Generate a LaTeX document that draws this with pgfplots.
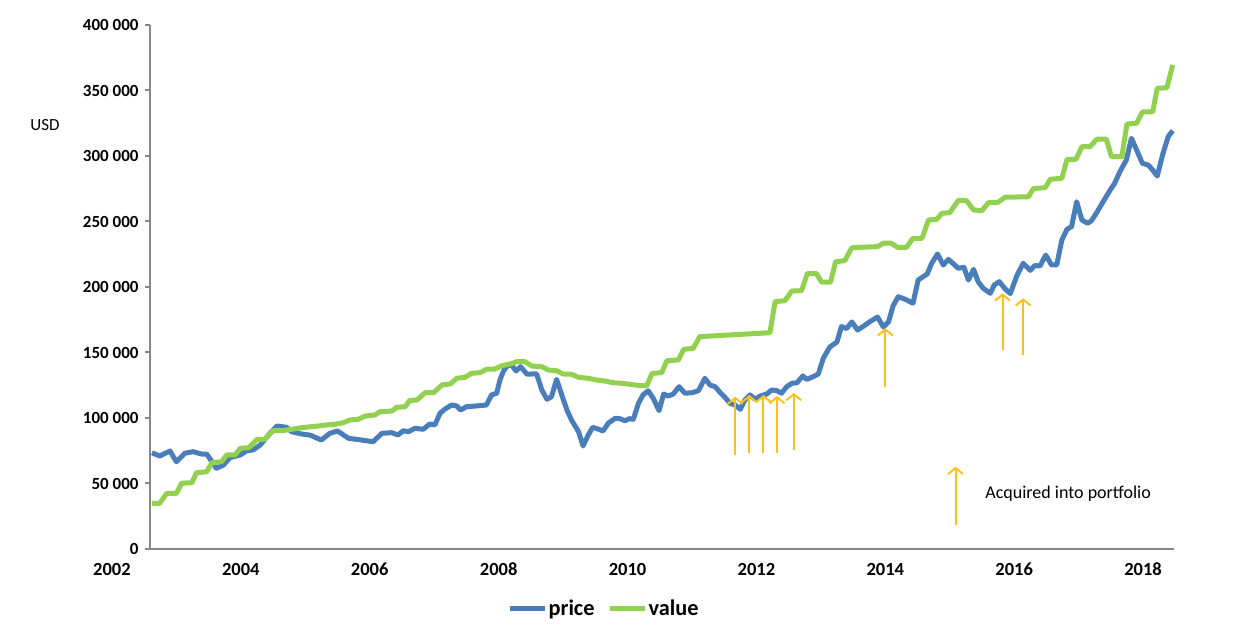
\documentclass[border=0pt]{standalone}
\usepackage{fontspec}
\setmainfont{Carlito}
\usepackage{pgfplots}
\usepackage{pgfplotstable}
\pgfplotsset{compat=1.18}
\usetikzlibrary{arrows.meta}
\definecolor{priceblue}{HTML}{4A7EBB}
\definecolor{valuegreen}{HTML}{92D050}
\definecolor{axisgray}{HTML}{868686}
\definecolor{arrowgold}{HTML}{FAC01C}

\pgfplotstableread{
x y
2002.62 73500
2002.74 71000
2002.90 74800
2003.00 66600
2003.13 73100
2003.26 74300
2003.39 72500
2003.47 72500
2003.62 61600
2003.73 64100
2003.83 69700
2003.99 71800
2004.09 75000
2004.19 75600
2004.30 79400
2004.43 87000
2004.56 93900
2004.71 92900
2004.79 89500
2004.94 87800
2005.07 87000
2005.25 83200
2005.38 88300
2005.50 90100
2005.67 84500
2005.87 83200
2006.05 81900
2006.19 88300
2006.34 88800
2006.44 87000
2006.52 90300
2006.60 89500
2006.70 92100
2006.83 91400
2006.93 95400
2007.01 94700
2007.09 103600
2007.17 106900
2007.27 109900
2007.35 109200
2007.41 106100
2007.50 108600
2007.66 109200
2007.81 109900
2007.89 117600
2007.97 118900
2008.02 129000
2008.07 135300
2008.13 139700
2008.20 140500
2008.27 135900
2008.34 139200
2008.44 133400
2008.51 133600
2008.59 133600
2008.67 121400
2008.75 114300
2008.82 116300
2008.90 129500
2008.98 117600
2009.06 106100
2009.13 98500
2009.24 89500
2009.31 78600
2009.39 87000
2009.46 92900
2009.55 91400
2009.62 90100
2009.70 96000
2009.81 99800
2009.88 99500
2009.96 97900
2010.03 99500
2010.09 99000
2010.17 111200
2010.24 117600
2010.32 120800
2010.40 115000
2010.49 105600
2010.56 118300
2010.63 116800
2010.71 118300
2010.80 123900
2010.89 118900
2011.00 119300
2011.10 120800
2011.20 130300
2011.28 125200
2011.36 123900
2011.44 119300
2011.51 115800
2011.59 111200
2011.67 109900
2011.75 106600
2011.82 113700
2011.90 117600
2011.98 114300
2012.06 116800
2012.16 118300
2012.24 121400
2012.32 120800
2012.39 118900
2012.47 123900
2012.55 126500
2012.63 126900
2012.72 132100
2012.78 129500
2012.88 131500
2012.96 133600
2013.04 145800
2013.14 154200
2013.25 158000
2013.32 169800
2013.40 168300
2013.48 173300
2013.57 167200
2013.66 170000
2013.76 173500
2013.88 177100
2013.97 169500
2014.05 173300
2014.12 185500
2014.20 192600
2014.31 190600
2014.43 187600
2014.51 205300
2014.65 209900
2014.72 218100
2014.81 225200
2014.90 216800
2014.98 221100
2015.06 217600
2015.13 214300
2015.22 215000
2015.29 205300
2015.37 213500
2015.44 204100
2015.52 199000
2015.63 195200
2015.69 201500
2015.77 204100
2015.86 198500
2015.94 195000
2016.04 208400
2016.14 218100
2016.25 212700
2016.32 216400
2016.40 216000
2016.49 224400
2016.58 216800
2016.66 216800
2016.74 235900
2016.82 244100
2016.89 246000
2016.97 265100
2017.05 251200
2017.14 248600
2017.20 250600
2017.28 256700
2017.38 265100
2017.49 274000
2017.56 279200
2017.64 288000
2017.74 296900
2017.82 313500
2017.90 304600
2017.99 294400
2018.08 293100
2018.15 289300
2018.22 284700
2018.31 302100
2018.39 314700
2018.46 319300
}\pricedata

\pgfplotstableread{
x y
2002.62 34900
2002.74 34900
2002.85 42500
2003.00 42500
2003.08 50200
2003.24 50600
2003.31 58200
2003.47 59000
2003.55 65900
2003.70 66600
2003.78 71800
2003.91 71800
2003.99 76900
2004.12 77300
2004.25 83700
2004.37 83700
2004.50 90300
2004.63 90300
2004.79 91400
2004.94 92600
2005.10 93400
2005.20 93900
2005.33 94700
2005.46 95200
2005.59 96400
2005.69 98500
2005.82 99000
2005.93 101500
2006.08 102300
2006.16 104800
2006.34 105300
2006.42 108200
2006.55 108600
2006.62 113400
2006.73 113700
2006.86 119300
2006.99 119300
2007.12 125200
2007.25 126000
2007.35 130300
2007.48 131100
2007.58 134100
2007.71 134600
2007.81 137200
2007.94 137400
2008.05 139900
2008.18 141200
2008.28 143000
2008.41 143000
2008.51 139700
2008.67 139200
2008.77 136600
2008.90 136100
2009.00 133600
2009.13 133400
2009.24 131100
2009.39 130300
2009.52 129000
2009.65 128200
2009.78 126900
2009.91 126500
2010.04 125700
2010.19 124800
2010.30 124800
2010.38 134100
2010.53 134600
2010.61 143700
2010.79 144300
2010.87 152400
2011.02 153200
2011.12 162100
2012.21 165100
2012.29 188800
2012.44 189500
2012.55 196900
2012.70 197200
2012.79 210300
2012.93 210300
2013.01 203800
2013.15 203800
2013.23 219300
2013.37 220100
2013.48 229900
2013.61 230300
2013.88 230800
2013.97 233400
2014.09 233400
2014.19 230300
2014.33 230300
2014.43 237200
2014.57 237200
2014.67 251100
2014.80 251700
2014.88 256300
2015.00 256700
2015.13 265900
2015.26 265900
2015.37 258800
2015.50 258300
2015.60 264400
2015.75 264700
2015.86 268500
2016.22 268900
2016.30 275200
2016.48 275800
2016.56 282200
2016.74 283000
2016.82 297500
2016.96 297500
2017.05 307100
2017.18 307100
2017.28 312800
2017.43 312800
2017.51 299500
2017.67 299500
2017.75 324400
2017.90 325000
2017.99 333600
2018.15 333800
2018.22 351700
2018.37 352100
2018.46 369500
}\valuedata

\pgfplotstableread{
x y v
2011.67 71800 44500
2011.89 73300 44300
2012.11 73300 44300
2012.32 73300 43500
2012.58 75600 43500
2014.00 123900 44600
2015.82 151900 43300
2016.14 148100 43300
2015.09 18300 44500
}\arrowdata

\begin{document}
\begin{tikzpicture}
\begin{axis}[
  at={(150pt,86pt)}, anchor=south west,
  scale only axis, width=1024pt, height=524pt,
  xmin=2002.59, xmax=2018.48, ymin=0, ymax=400000,
  clip=false,
  scaled y ticks=false,
  axis x line=bottom, axis y line=left,
  axis line style={-, axisgray, line width=2.5pt},
  xtick={2004,2006,...,2018},
  xticklabels={2004,2006,2008,2010,2012,2014,2016,2018},
  x tick style={draw=none},
  xticklabel style={font=\fontsize{18.5}{22}\selectfont\bfseries, anchor=center, yshift=-15.2pt},
  ytick={0,50000,...,400000},
  yticklabels={0,50 000,100 000,150 000,200 000,250 000,300 000,350 000,400 000},
  y tick style={axisgray, line width=2pt},
  tick align=outside, major tick length=5pt,
  yticklabel style={font=\fontsize{17}{20}\selectfont\bfseries, anchor=east, xshift=-3pt},
  legend style={at={(0.4429,-0.1126)}, anchor=center, draw=none, fill=none,
    legend columns=2, font=\fontsize{22.3}{26}\selectfont\bfseries,
    nodes={inner sep=1pt},
    /tikz/every even column/.append style={column sep=12pt}},
  legend image code/.code={\draw[#1, line width=5pt] (0pt,0pt) -- (35pt,0pt);},
]
\addplot[priceblue, line width=5pt, line join=round] table {\pricedata};
\addlegendentry{price}
\addplot[valuegreen, line width=5pt, line join=round] table {\valuedata};
\addlegendentry{value}
\addplot[forget plot, arrowgold, line width=2pt, quiver={u=0, v=\thisrow{v}},
  -{Straight Barb[length=6pt, width=15pt, line width=2pt]}] table {\arrowdata};
\node[anchor=center, font=\fontsize{18.5}{22}\selectfont\bfseries, yshift=-20.7pt] at (axis cs:2002,0) {2002};
\node[anchor=west, inner sep=0pt, font=\fontsize{18}{21}\selectfont] at (axis cs:2015.55,42000) {Acquired into portfolio};
\node[anchor=center, font=\fontsize{17}{20}\selectfont] at (rel axis cs:-0.1025,0.8092) {USD};
\end{axis}
\pgfresetboundingbox
\path[use as bounding box] (0,0) rectangle (1240pt,635pt);
\end{tikzpicture}
\end{document}
